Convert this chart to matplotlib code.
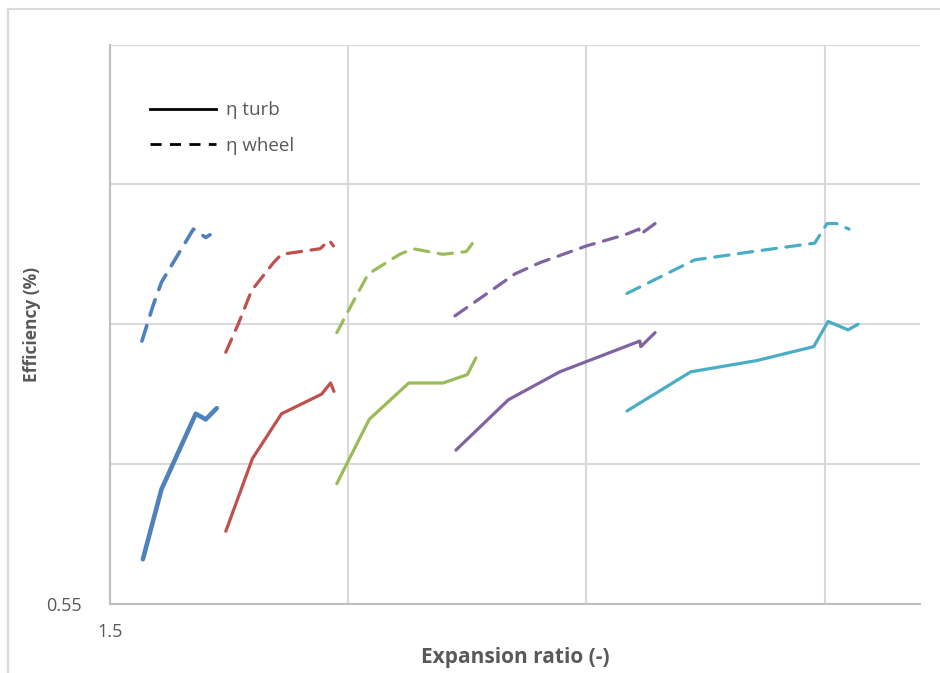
import matplotlib.pyplot as plt
from matplotlib.lines import Line2D
from matplotlib.patches import Rectangle

plt.rcParams['font.family'] = ['Open Sans', 'DejaVu Sans']

# --- data ---
blue_turb_x = [1.569, 1.608, 1.680, 1.701, 1.724]
blue_turb_y = [0.566, 0.591, 0.618, 0.616, 0.620]
blue_wheel_x = [1.567, 1.591, 1.608, 1.636, 1.675, 1.701, 1.710]
blue_wheel_y = [0.644, 0.657, 0.665, 0.673, 0.684, 0.681, 0.682]

red_turb_x = [1.743, 1.799, 1.860, 1.944, 1.963, 1.970]
red_turb_y = [0.576, 0.602, 0.618, 0.625, 0.629, 0.626]
red_wheel_x = [1.743, 1.769, 1.797, 1.843, 1.860, 1.941, 1.960, 1.969]
red_wheel_y = [0.640, 0.650, 0.662, 0.672, 0.675, 0.677, 0.680, 0.678]

green_turb_x = [1.976, 2.044, 2.127, 2.199, 2.250, 2.268]
green_turb_y = [0.593, 0.616, 0.629, 0.629, 0.632, 0.638]
green_wheel_x = [1.976, 2.007, 2.042, 2.108, 2.136, 2.199, 2.248, 2.261]
green_wheel_y = [0.647, 0.657, 0.668, 0.675, 0.677, 0.675, 0.676, 0.679]

purple_turb_x = [2.226, 2.336, 2.444, 2.612, 2.614, 2.644]
purple_turb_y = [0.605, 0.623, 0.633, 0.644, 0.642, 0.647]
purple_wheel_x = [2.224, 2.283, 2.350, 2.402, 2.500, 2.581, 2.610, 2.612, 2.644]
purple_wheel_y = [0.653, 0.660, 0.668, 0.672, 0.678, 0.682, 0.684, 0.682, 0.686]

cyan_turb_x = [2.585, 2.719, 2.857, 2.977, 3.007, 3.049, 3.070]
cyan_turb_y = [0.619, 0.633, 0.637, 0.642, 0.651, 0.648, 0.650]
cyan_wheel_x = [2.585, 2.703, 2.727, 2.850, 2.979, 3.005, 3.025, 3.051]
cyan_wheel_y = [0.661, 0.671, 0.673, 0.676, 0.679, 0.686, 0.686, 0.684]

x_ticks = [1.5, 2.0, 2.5, 3.0]
y_ticks = [0.55, 0.60, 0.65, 0.70, 0.75]

gray = '#595959'
grid_c = '#d9d9d9'

fig = plt.figure(figsize=(9.4, 6.73), dpi=100)
ax = fig.add_axes([110/940, 69/673, 810/940, 559.5/673])

# outer chart border
fig.patches.append(Rectangle((8/940, -0.1), 1.2, (673-9)/673 + 0.1, transform=fig.transFigure,
                             fill=False, edgecolor=grid_c, linewidth=1.5))

series = [
    ('#4F81BD', blue_turb_x, blue_turb_y, blue_wheel_x, blue_wheel_y, 3.3, 2.6),
    ('#C0504D', red_turb_x, red_turb_y, red_wheel_x, red_wheel_y, 2.3, 2.3),
    ('#9BBB59', green_turb_x, green_turb_y, green_wheel_x, green_wheel_y, 2.3, 2.3),
    ('#8064A2', purple_turb_x, purple_turb_y, purple_wheel_x, purple_wheel_y, 2.3, 2.3),
    ('#4BACC6', cyan_turb_x, cyan_turb_y, cyan_wheel_x, cyan_wheel_y, 2.3, 2.3),
]
for c, tx, ty, wx, wy, lw_t, lw_w in series:
    ax.plot(tx, ty, color=c, linewidth=lw_t, solid_capstyle='round', solid_joinstyle='round')
    ax.plot(wx, wy, color=c, linewidth=lw_w, linestyle=(0, (4.5, 3)), dash_capstyle='round')

ax.set_xlim(1.5, 3.2)
ax.set_ylim(0.55, 0.75)
ax.set_xticks(x_ticks)
ax.set_yticks(y_ticks)
ax.set_xticklabels(['1.5', '', '', ''])
ax.set_yticklabels(['0.55', '', '', '', ''])
ax.tick_params(length=0, labelsize=13, labelcolor=gray)
ax.tick_params(axis='x', pad=14)
ax.tick_params(axis='y', pad=20)
ax.grid(True, color=grid_c, linewidth=1.5)
ax.set_axisbelow(True)
for s in ['top', 'right']:
    ax.spines[s].set_visible(False)
for s in ['left', 'bottom']:
    ax.spines[s].set_color('#bfbfbf')
    ax.spines[s].set_linewidth(1.5)

ax.set_xlabel('Expansion ratio (-)', fontsize=15, fontweight='bold', color=gray, labelpad=4)
ax.set_ylabel('Efficiency (%)', fontsize=12.5, fontweight='bold', color=gray, labelpad=4)

handles = [Line2D([], [], color='black', linewidth=2),
           Line2D([], [], color='black', linewidth=2, linestyle=(0, (4, 3)))]
ax.legend(handles, ['η turb', 'η wheel'], loc='upper left', bbox_to_anchor=(0.029, 0.929),
          frameon=False, fontsize=13.5, labelcolor=gray, handlelength=3.5,
          handletextpad=0.55, labelspacing=0.95)

fig.savefig('out.png', dpi=100)
